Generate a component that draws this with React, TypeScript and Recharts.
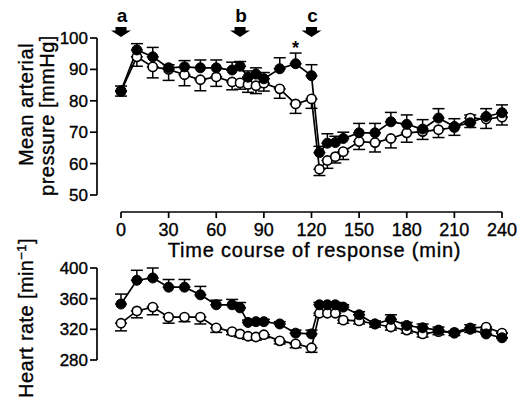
import React from 'react';
import { LineChart, Line, XAxis, YAxis, ErrorBar, ReferenceDot } from 'recharts';

const FONT = "'Liberation Sans', Arial, Helvetica, sans-serif";

// time points (min)
const times = [0, 10, 20, 30, 40, 50, 60, 70, 75, 80, 85, 90, 100, 110, 120, 125, 130, 135, 140, 150, 160, 170, 180, 190, 200, 210, 220, 230, 240];

// Mean arterial pressure (mmHg)
const mapFilled = [83.2, 96.2, 94, 90.5, 90.8, 90.5, 90.5, 89.8, 91, 87.5, 88.5, 87, 90.2, 91.8, 88, 63.5, 66.5, 66.7, 68, 69.8, 69.8, 73.3, 72.5, 71, 74.5, 71.8, 73, 75, 76.2];
const mapFilledErr = [1.5, 2, 3, 1, 2, 2.5, 2.5, 2.5, 1.5, 2, 2, 2, 3.5, 3.4, 3.5, 2, 3, 2, 2, 3, 3, 3, 3, 3, 3, 2.5, 2.5, 2.5, 2.5];
const mapOpen = [83, 94, 90.8, 90, 88.3, 86.7, 87.6, 86, 85.7, 85.2, 84.8, 85.6, 83.8, 79, 80.6, 58.2, 61, 62.2, 63.8, 67, 66.7, 68, 69.8, 70.2, 70.8, 71.5, 74.5, 74.2, 74.8];
const mapOpenErr = [1.5, 3, 3.5, 3.5, 3.5, 3.5, 3, 2.5, 2, 2.5, 2.5, 2.5, 3, 3, 3, 2, 2.5, 2, 2.5, 2.5, 3, 3, 3, 2.5, 2.5, 2.5, 3, 3, 2.5];

// Heart rate (min^-1)
const hrFilled = [353, 384, 387, 375, 375, 365, 352, 352, 348, 329, 330, 330, 327, 315, 314, 352, 352, 352, 349, 339, 327, 333, 325, 322, 319, 315, 320, 314, 309];
const hrFilledErr = [13, 13, 13, 10, 10, 11, 6, 7, 7, 3, 3, 3, 3, 4, 5, 3, 3, 3, 3, 4, 4, 6, 4, 5, 4, 3, 6, 6, 6];
const hrOpen = [328, 344, 349, 336, 336, 336, 322, 317, 314, 311, 310, 313, 305, 301, 296, 341, 341, 341, 332, 331, 327, 323, 319, 314, 317, 316, 322, 323, 315];
const hrOpenErr = [10, 9, 10, 8, 6, 9, 6, 4, 4, 4, 4, 4, 4, 5, 6, 3, 3, 3, 4, 4, 4, 4, 4, 4, 4, 4, 6, 5, 6];

const mapTicks = [50, 60, 70, 80, 90, 100];
const hrTicks = [280, 320, 360, 400];
const timeTicks = [0, 30, 60, 90, 120, 150, 180, 210, 240];

const markers = [
  { t: 0, letter: 'a' },
  { t: 75, letter: 'b' },
  { t: 120, letter: 'c' },
];
const markerLevel = 100;
const starTime = 110;
const starLevel = 98;

const mapData = times.map((t, i) => ({
  t,
  filled: mapFilled[i],
  open: mapOpen[i],
  fErr: [0, mapFilledErr[i]],
  oErr: [mapOpenErr[i], 0],
}));
const hrData = times.map((t, i) => ({
  t,
  filled: hrFilled[i],
  open: hrOpen[i],
  fErr: [0, hrFilledErr[i]],
  oErr: [hrOpenErr[i], 0],
}));

const AX = { stroke: '#000', strokeWidth: 1.7 };
const TL = { stroke: '#000', strokeWidth: 1.7 };
const TXT = { stroke: '#000', strokeWidth: 0.35 };

const filledDot = { r: 5, fill: '#000', stroke: '#000', strokeWidth: 1 };
const openDot = { r: 4.6, fill: '#fff', stroke: '#000', strokeWidth: 1.6 };

const MapLabel = (props: any) => {
  const vb = props.viewBox || { x: 0, y: 38, width: 97, height: 157 };
  const cy = vb.y + vb.height / 2;
  return (
    <g fontFamily={FONT} fontSize={20} fill="#000" {...TXT}>
      <text transform={`translate(${vb.x + 33},${cy - 12}) rotate(-90)`} textAnchor="middle" letterSpacing={0.5}>
        Mean arterial
      </text>
      <text transform={`translate(${vb.x + 54},${cy - 1}) rotate(-90)`} textAnchor="middle" letterSpacing={0.5}>
        pressure [mmHg]
      </text>
    </g>
  );
};

const HrLabel = (props: any) => {
  const vb = props.viewBox || { x: 0, y: 268, width: 97, height: 92 };
  const cy = vb.y + vb.height / 2;
  return (
    <g fontFamily={FONT} fontSize={20} fill="#000" {...TXT}>
      <text transform={`translate(${vb.x + 33},${cy + 4}) rotate(-90)`} textAnchor="middle" letterSpacing={0.4}>
        Heart rate [min
        <tspan dy={-7} fontSize={13}>−1</tspan>
        <tspan dy={7}>]</tspan>
      </text>
    </g>
  );
};

const TimeLabel = (props: any) => {
  const vb = props.viewBox || { x: 121, y: 212, width: 381, height: 50 };
  return (
    <text
      x={vb.x + vb.width / 2 + 3}
      y={vb.y + 45}
      textAnchor="middle"
      fontFamily={FONT}
      fontSize={20}
      letterSpacing={0.8}
      fill="#000"
      {...TXT}
    >
      Time course of response (min)
    </text>
  );
};

const ArrowMark = (props: any) => {
  const { cx, cy, letter } = props;
  if (cx == null || cy == null) return null;
  return (
    <g>
      <text x={cx + 1} y={cy - 16} textAnchor="middle" fontSize={19} fontWeight="bold" fontFamily={FONT} fill="#000">
        {letter}
      </text>
      <path
        d={`M${cx - 5.5},${cy - 11} h11 v3.5 h4.5 L${cx},${cy - 1} L${cx - 10},${cy - 7.5} h4.5 Z`}
        fill="#000"
      />
    </g>
  );
};

const StarMark = (props: any) => {
  const { cx, cy } = props;
  if (cx == null || cy == null) return null;
  return (
    <text x={cx} y={cy + 10} textAnchor="middle" fontSize={18} fontWeight="bold" fontFamily={FONT} fill="#000">
      *
    </text>
  );
};

export default function App() {
  const yTick = { fontSize: 17, fill: '#000', fontFamily: FONT, ...TXT };
  const xTick = { fontSize: 18, fill: '#000', fontFamily: FONT, ...TXT };
  return (
    <div style={{ position: 'absolute', left: 0, top: 0, width: 523, height: 400, background: '#fff' }}>
      <div style={{ position: 'absolute', left: 0, top: 0 }}>
        <LineChart width={523} height={262} data={mapData} margin={{ top: 38, right: 21, left: 0, bottom: 0 }}>
          <XAxis xAxisId="gap" type="number" dataKey="t" domain={[0, 240]} height={17} axisLine={false} tickLine={false} tick={false} />
          <XAxis
            xAxisId="t"
            type="number"
            dataKey="t"
            domain={[0, 240]}
            ticks={timeTicks}
            height={50}
            axisLine={AX}
            tickLine={TL}
            tickSize={6}
            tickMargin={5}
            tick={xTick}
            label={<TimeLabel />}
          />
          <YAxis yAxisId="gap" width={24} axisLine={false} tickLine={false} tick={false} />
          <YAxis
            yAxisId="map"
            type="number"
            domain={[50, 100]}
            ticks={mapTicks}
            width={97}
            axisLine={AX}
            tickLine={TL}
            tickSize={7}
            tickMargin={2}
            tick={yTick}
            label={<MapLabel />}
          />
          <Line
            xAxisId="t"
            yAxisId="map"
            dataKey="open"
            stroke="#000"
            strokeWidth={1.7}
            dot={openDot}
            activeDot={false}
            isAnimationActive={false}
          >
            <ErrorBar dataKey="oErr" direction="y" width={6} stroke="#000" strokeWidth={1.5} />
          </Line>
          <Line
            xAxisId="t"
            yAxisId="map"
            dataKey="filled"
            stroke="#000"
            strokeWidth={1.7}
            dot={filledDot}
            activeDot={false}
            isAnimationActive={false}
          >
            <ErrorBar dataKey="fErr" direction="y" width={6} stroke="#000" strokeWidth={1.5} />
          </Line>
          {markers.map((m) => (
            <ReferenceDot
              key={m.letter}
              xAxisId="t"
              yAxisId="map"
              x={m.t}
              y={markerLevel}
              r={0}
              ifOverflow="visible"
              shape={(p: any) => <ArrowMark {...p} letter={m.letter} />}
            />
          ))}
          <ReferenceDot
            xAxisId="t"
            yAxisId="map"
            x={starTime}
            y={starLevel}
            r={0}
            ifOverflow="visible"
            shape={(p: any) => <StarMark {...p} />}
          />
        </LineChart>
      </div>
      <div style={{ position: 'absolute', left: 0, top: 200 }}>
        <LineChart width={523} height={200} data={hrData} margin={{ top: 68, right: 21, left: 0, bottom: 40 }}>
          <XAxis xAxisId="t" type="number" dataKey="t" domain={[0, 240]} hide />
          <YAxis yAxisId="gap" width={24} axisLine={false} tickLine={false} tick={false} />
          <YAxis
            yAxisId="hr"
            type="number"
            domain={[280, 400]}
            ticks={hrTicks}
            allowDataOverflow
            width={97}
            axisLine={AX}
            tickLine={TL}
            tickSize={7}
            tickMargin={2}
            tick={yTick}
            label={<HrLabel />}
          />
          <Line
            xAxisId="t"
            yAxisId="hr"
            dataKey="open"
            stroke="#000"
            strokeWidth={1.7}
            dot={openDot}
            activeDot={false}
            isAnimationActive={false}
          >
            <ErrorBar dataKey="oErr" direction="y" width={6} stroke="#000" strokeWidth={1.5} />
          </Line>
          <Line
            xAxisId="t"
            yAxisId="hr"
            dataKey="filled"
            stroke="#000"
            strokeWidth={1.7}
            dot={filledDot}
            activeDot={false}
            isAnimationActive={false}
          >
            <ErrorBar dataKey="fErr" direction="y" width={6} stroke="#000" strokeWidth={1.5} />
          </Line>
        </LineChart>
      </div>
    </div>
  );
}
